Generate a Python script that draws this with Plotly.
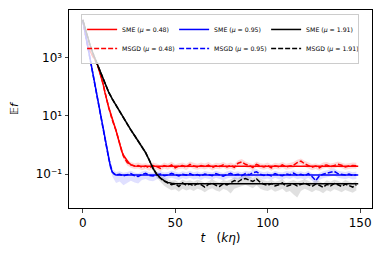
import numpy as np
import plotly.graph_objects as go

# ---- data (log10 of E f) ----
t_msgd = list(range(0, 150, 2))

sme_red_t = [0,1,2,3,4,5,6,7,8,9,10,11,12,13,14,15,16,17,18,19,20,21,22,23,24,25,26,27,28,30,149]
sme_red = [4.30,3.95,3.60,3.28,3.22,3.12,3.00,2.90,2.75,2.55,2.35,2.10,1.80,1.50,1.30,1.10,0.85,0.70,0.50,0.25,
           0.05,-0.20,-0.35,-0.45,-0.55,-0.62,-0.67,-0.70,-0.72,-0.73,-0.73]

sme_blue_t = [0,2,4,6,8,10,11,12,13,14,15,16,17,18,149]
sme_blue = [4.30,3.62,2.95,2.28,1.62,0.98,0.65,0.30,-0.08,-0.45,-0.75,-0.93,-1.00,-1.03,-1.03]

sme_black_t = [0,2,4,6,8,10,12,14,16,18,20,22,24,26,28,30,32,34,36,38,40,42,44,46,48,50,149]
sme_black = [4.30,3.85,3.42,3.07,2.75,2.42,2.10,1.82,1.58,1.36,1.14,0.92,0.72,0.52,0.33,0.14,-0.05,-0.26,-0.52,-0.80,
             -1.00,-1.13,-1.22,-1.28,-1.31,-1.33,-1.33]

msgd_red = [4.30,3.60,3.22,3.00,2.75,2.35,1.80,1.30,0.85,0.50,
            0.05,-0.38,-0.60,-0.68,-0.72,-0.70,-0.76,-0.72,-0.78,-0.70,
            -0.74,-0.80,-0.70,-0.75,-0.68,-0.78,-0.72,-0.70,-0.76,-0.66,
            -0.72,-0.75,-0.70,-0.74,-0.69,-0.77,-0.71,-0.73,-0.68,-0.75,
            -0.70,-0.76,-0.62,-0.58,-0.66,-0.70,-0.77,-0.66,-0.72,-0.75,
            -0.70,-0.78,-0.71,-0.74,-0.68,-0.75,-0.72,-0.69,-0.60,-0.55,
            -0.64,-0.70,-0.76,-0.72,-0.78,-0.70,-0.68,-0.74,-0.71,-0.66,
            -0.69,-0.75,-0.72,-0.70,-0.71]
red_hi = [4.32,3.63,3.26,3.04,2.80,2.41,1.87,1.38,0.93,0.58,
          0.14,-0.28,-0.50,-0.58,-0.62,-0.60,-0.64,-0.62,-0.66,-0.60,
          -0.63,-0.68,-0.60,-0.64,-0.57,-0.66,-0.62,-0.60,-0.65,-0.56,
          -0.61,-0.64,-0.60,-0.63,-0.58,-0.66,-0.61,-0.62,-0.58,-0.64,
          -0.60,-0.65,-0.52,-0.48,-0.56,-0.60,-0.66,-0.56,-0.62,-0.64,
          -0.60,-0.67,-0.61,-0.63,-0.58,-0.64,-0.62,-0.58,-0.50,-0.46,
          -0.54,-0.60,-0.65,-0.62,-0.67,-0.60,-0.58,-0.63,-0.61,-0.56,
          -0.59,-0.64,-0.62,-0.60,-0.61]
red_lo = [4.28,3.57,3.18,2.96,2.70,2.29,1.73,1.22,0.77,0.42,
          -0.04,-0.48,-0.70,-0.78,-0.82,-0.80,-0.86,-0.82,-0.88,-0.80,
          -0.84,-0.90,-0.80,-0.85,-0.78,-0.88,-0.82,-0.80,-0.86,-0.76,
          -0.82,-0.85,-0.80,-0.84,-0.79,-0.87,-0.81,-0.83,-0.78,-0.85,
          -0.80,-0.86,-0.72,-0.68,-0.76,-0.80,-0.87,-0.76,-0.82,-0.85,
          -0.80,-0.88,-0.81,-0.84,-0.78,-0.85,-0.82,-0.79,-0.70,-0.65,
          -0.74,-0.80,-0.86,-0.82,-0.88,-0.80,-0.78,-0.84,-0.81,-0.76,
          -0.79,-0.85,-0.82,-0.80,-0.81]

msgd_blue = [4.30,3.62,2.95,2.28,1.62,0.98,0.30,-0.45,-0.93,-1.03,
             -1.00,-1.06,-1.02,-0.98,-1.05,-1.08,-1.01,-0.97,-1.04,-1.06,
             -1.02,-0.99,-1.05,-1.03,-0.97,-1.02,-1.06,-1.00,-1.03,-0.98,
             -1.04,-1.01,-1.06,-0.99,-1.03,-1.05,-0.98,-1.02,-1.07,-1.01,
             -0.97,-1.03,-1.00,-1.05,-0.98,-1.02,-0.95,-0.92,-1.00,-1.04,
             -1.01,-1.06,-0.98,-1.03,-1.05,-0.99,-1.02,-0.96,-1.03,-1.00,
             -1.05,-0.98,-1.08,-1.22,-1.06,-1.00,-0.97,-0.94,-0.90,-0.98,
             -1.01,-1.03,-0.99,-1.04,-1.02]
blue_hi = [4.32,3.65,2.99,2.33,1.68,1.05,0.38,-0.37,-0.83,-0.92,
           -0.90,-0.95,-0.92,-0.88,-0.94,-0.97,-0.91,-0.87,-0.93,-0.95,
           -0.92,-0.89,-0.94,-0.92,-0.87,-0.91,-0.95,-0.90,-0.92,-0.88,
           -0.93,-0.90,-0.95,-0.89,-0.92,-0.94,-0.88,-0.91,-0.96,-0.90,
           -0.87,-0.92,-0.90,-0.94,-0.88,-0.91,-0.85,-0.82,-0.90,-0.93,
           -0.90,-0.95,-0.88,-0.92,-0.94,-0.89,-0.91,-0.86,-0.92,-0.90,
           -0.94,-0.88,-0.97,-1.10,-0.95,-0.90,-0.87,-0.84,-0.80,-0.88,
           -0.90,-0.92,-0.89,-0.93,-0.91]
blue_lo = [4.28,3.59,2.91,2.23,1.56,0.91,0.22,-0.55,-1.08,-1.30,
           -1.25,-1.38,-1.30,-1.22,-1.28,-1.32,-1.20,-1.16,-1.22,-1.24,
           -1.18,-1.14,-1.20,-1.17,-1.12,-1.16,-1.20,-1.14,-1.17,-1.12,
           -1.18,-1.15,-1.20,-1.13,-1.17,-1.19,-1.12,-1.16,-1.21,-1.15,
           -1.11,-1.17,-1.14,-1.19,-1.12,-1.16,-1.09,-1.06,-1.14,-1.18,
           -1.15,-1.20,-1.12,-1.17,-1.19,-1.13,-1.16,-1.10,-1.17,-1.14,
           -1.19,-1.12,-1.22,-1.36,-1.20,-1.14,-1.11,-1.08,-1.04,-1.12,
           -1.15,-1.17,-1.13,-1.18,-1.16]

msgd_black = [4.30,3.85,3.42,3.07,2.75,2.42,2.10,1.82,1.58,1.36,
              1.14,0.92,0.72,0.52,0.33,0.14,-0.05,-0.26,-0.52,-0.80,
              -1.00,-1.14,-1.24,-1.30,-1.36,-1.33,-1.42,-1.30,-1.38,-1.34,
              -1.40,-1.32,-1.36,-1.44,-1.35,-1.30,-1.38,-1.42,-1.33,-1.37,
              -1.30,-1.22,-1.26,-1.18,-1.15,-1.20,-1.25,-1.16,-1.28,-1.35,
              -1.38,-1.32,-1.40,-1.36,-1.30,-1.42,-1.37,-1.33,-1.40,-1.35,
              -1.30,-1.36,-1.42,-1.34,-1.38,-1.45,-1.35,-1.40,-1.32,-1.36,
              -1.42,-1.34,-1.38,-1.44,-1.36]
black_hi = [4.32,3.88,3.46,3.12,2.80,2.48,2.16,1.88,1.64,1.42,
            1.20,0.98,0.78,0.58,0.40,0.21,0.03,-0.18,-0.43,-0.70,
            -0.90,-1.03,-1.12,-1.18,-1.22,-1.20,-1.28,-1.18,-1.24,-1.21,
            -1.26,-1.19,-1.22,-1.30,-1.22,-1.17,-1.24,-1.28,-1.20,-1.23,
            -1.17,-1.10,-1.13,-1.06,-1.03,-1.08,-1.12,-1.04,-1.15,-1.21,
            -1.24,-1.19,-1.26,-1.22,-1.17,-1.28,-1.23,-1.20,-1.26,-1.21,
            -1.17,-1.22,-1.28,-1.20,-1.24,-1.31,-1.21,-1.26,-1.19,-1.22,
            -1.28,-1.20,-1.24,-1.30,-1.22]
black_lo = [4.28,3.82,3.38,3.02,2.70,2.36,2.04,1.76,1.52,1.30,
            1.08,0.86,0.66,0.46,0.26,0.07,-0.13,-0.34,-0.61,-0.90,
            -1.12,-1.28,-1.40,-1.48,-1.55,-1.52,-1.60,-1.50,-1.56,-1.52,
            -1.58,-1.50,-1.54,-1.62,-1.53,-1.48,-1.56,-1.60,-1.51,-1.55,
            -1.66,-1.50,-1.46,-1.40,-1.36,-1.42,-1.48,-1.38,-1.50,-1.55,
            -1.58,-1.52,-1.60,-1.56,-1.50,-1.62,-1.58,-1.70,-1.80,-1.58,
            -1.50,-1.55,-1.62,-1.54,-1.58,-1.65,-1.55,-1.60,-1.52,-1.56,
            -1.62,-1.54,-1.58,-1.64,-1.56]

mus = ["0.48", "0.95", "1.91"]
x_ticks = [0, 50, 100, 150]
y_tickvals = [0.1, 10, 1000]
y_ticktext = ["10⁻¹", "10¹", "10³"]

def p(v):
    return np.power(10.0, np.array(v))

series = [
    dict(mu=mus[0], color="#ff0000", band="rgba(255,0,0,0.15)", st=sme_red_t, s=sme_red, m=msgd_red, lo=red_lo, hi=red_hi),
    dict(mu=mus[1], color="#0000ff", band="rgba(0,0,255,0.12)", st=sme_blue_t, s=sme_blue, m=msgd_blue, lo=blue_lo, hi=blue_hi),
    dict(mu=mus[2], color="#000000", band="rgba(0,0,0,0.12)", st=sme_black_t, s=sme_black, m=msgd_black, lo=black_lo, hi=black_hi),
]

fig = go.Figure()
for i, d in enumerate(series):
    fig.add_trace(go.Scatter(x=t_msgd, y=p(d["lo"]), mode="lines", line=dict(width=0),
                             showlegend=False, hoverinfo="skip"))
    fig.add_trace(go.Scatter(x=t_msgd, y=p(d["hi"]), mode="lines", line=dict(width=0),
                             fill="tonexty", fillcolor=d["band"], showlegend=False, hoverinfo="skip"))
    fig.add_trace(go.Scatter(x=t_msgd, y=p(d["m"]), mode="lines",
                             line=dict(color=d["color"], width=1.5, dash="5px,2px"),
                             name=f"MSGD (<i>μ</i> = {d['mu']})", legendrank=4 + i))
    fig.add_trace(go.Scatter(x=d["st"], y=p(d["s"]), mode="lines",
                             line=dict(color=d["color"], width=1.5),
                             name=f"SME (<i>μ</i> = {d['mu']})", legendrank=1 + i))

fig.update_layout(
    width=382, height=255,
    margin=dict(l=57, r=18, t=1, b=55),
    plot_bgcolor="white", paper_bgcolor="white",
    font=dict(family="DejaVu Sans", color="black"),
    showlegend=True,
    legend=dict(orientation="h", x=0.04, y=0.98, xanchor="left", yanchor="top",
                font=dict(size=6.2), bgcolor="rgba(255,255,255,0.8)",
                bordercolor="#cccccc", borderwidth=1, itemwidth=30,
                entrywidth=47, traceorder="normal", tracegroupgap=0),
)
fig.update_xaxes(range=[-7.45, 156.45], tickvals=x_ticks, ticks="outside", ticklen=3.5,
                 showline=True, linecolor="black", linewidth=1, mirror=True, showgrid=False,
                 zeroline=False, tickfont=dict(size=12),
                 title=dict(text="<i>t</i>   (<i>kη</i>)", font=dict(size=12), standoff=4))
fig.update_yaxes(type="log", range=[-2.16, 4.64], tickvals=y_tickvals, ticktext=y_ticktext,
                 ticks="outside", ticklen=3.5, showline=True, linecolor="black", linewidth=1,
                 mirror=True, showgrid=False, zeroline=False, tickfont=dict(size=12),
                 title=dict(text="𝔼<i>f</i>", font=dict(size=11), standoff=19))

fig.write_html("out.html")
